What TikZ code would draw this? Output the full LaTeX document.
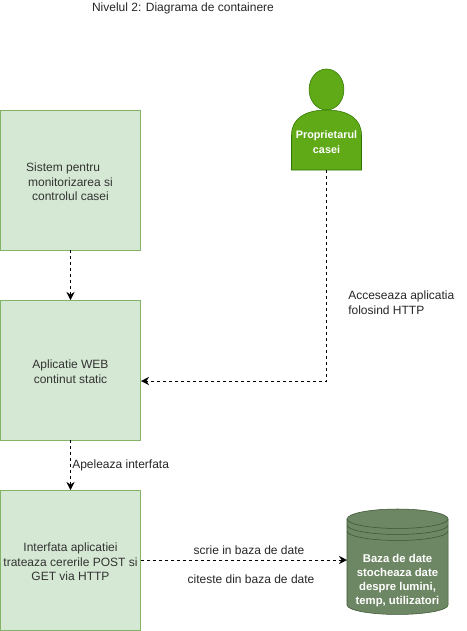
\documentclass[tikz,border=0pt]{standalone}
\usepackage{fontspec}
\setmainfont{Liberation Sans}
\usetikzlibrary{
  arrows.meta,
  positioning,  % Function "of" (e.g. [right=of x])
}
\definecolor{boxfill}{HTML}{D5E8D4}
\definecolor{boxline}{HTML}{82B366}
\definecolor{ownerfill}{HTML}{60A917}
\definecolor{ownerline}{HTML}{2D7600}
\definecolor{dbfill}{HTML}{6D8764}
\definecolor{dbline}{HTML}{3A5431}
\definecolor{boxtext}{HTML}{333333}
\def\myndist{37.5pt}
\newcommand{\topgap}{\rule{0pt}{9.5pt}}
\tikzset{
  font=\fontsize{9pt}{11pt}\selectfont,
  x=0.75pt,
  y=-0.75pt,
  line width=0.75pt,
  my box/.style={
    draw=boxline,
    fill=boxfill,
    text=boxtext,
    minimum width=105pt,
    minimum height=105pt,
    inner sep=0pt,
    outer sep=0pt,
    align=center
  },
  my label/.style={
    inner sep=0pt,
    text=black!85,
    align=left
  },
  my solid/.style={
    text=white,
    inner sep=0pt,
    outer sep=0pt,
    align=center
  },
  flow/.style={
    dash pattern=on 2.25pt off 2.25pt,
    -{Stealth[length=6pt,width=6pt]}
  },
  db arc/.style={
    x radius=37.9pt,
    y radius=7.1pt,
    start angle=180,
    end angle=360
  }
}
\begin{document}
\begin{tikzpicture}
\useasboundingbox (0,0) rectangle (467,631);
\node[my label] (title) at (183,8) {Nivelul 2: Diagrama de containere};
% boxes
\node[my box]                (sys) at (70.5,180) {\topgap Sistem pentru\hspace*{11pt}\\ monitorizarea si\\controlul casei};
\node[my box,below=\myndist of sys] (web) {\topgap Aplicatie WEB\\continut static};
\node[my box,below=\myndist of web] (api) {\topgap Interfata aplicatiei\\trateaza cererile POST si\\GET via HTTP};
% owner
\draw[draw=ownerline,fill=ownerfill] (326.5,89.5) ellipse [x radius=13.1pt,y radius=15.4pt];
\draw[draw=ownerline,fill=ownerfill] (291.5,170) -- (291.5,135)
  .. controls (291.5,118) and (306,110) .. (326.5,110)
  .. controls (347,110) and (361.5,118) .. (361.5,135) -- (361.5,170) -- cycle;
\node[my solid,font=\fontsize{8.1pt}{10.8pt}\selectfont\bfseries,minimum width=52.5pt,minimum height=42pt] (owner) at (326.5,142) {Proprietarul\\casei};
% database
\draw[draw=dbline,fill=dbfill] (347,519) -- (347,605) arc [db arc] -- (448.1,519)
  arc [x radius=37.9pt,y radius=7.5pt,start angle=0,end angle=180] -- cycle;
\foreach \y in {519,525,531}{
  \draw[dbline] (347,\y) arc [db arc];
}
\node[my solid,font=\fontsize{8.5pt}{10.5pt}\selectfont\bfseries,minimum width=75pt,minimum height=57pt] (db) at (397.5,581) {Baza de date\\stocheaza date\\despre lumini,\\temp, utilizatori};
\coordinate (dbin) at (347,560);
\coordinate (webin) at (141,381);
% connectors
\draw[flow] (sys) -- (web);
\draw[flow] (web) -- (api);
\draw[flow] (owner.south) |- (webin);
\draw[flow] (api.east |- dbin) -- (dbin);
% labels
\node[my label,anchor=west] (lblhttp) at (348,303) {Acceseaza aplicatia\\folosind HTTP};
\node[my label,anchor=west] (lblcall) at (72,465) {Apeleaza interfata};
\node[my label] (lblwrite) at (249,550) {scrie in baza de date};
\node[my label] (lblread) at (251,579) {citeste din baza de date};
\end{tikzpicture}
\end{document}
